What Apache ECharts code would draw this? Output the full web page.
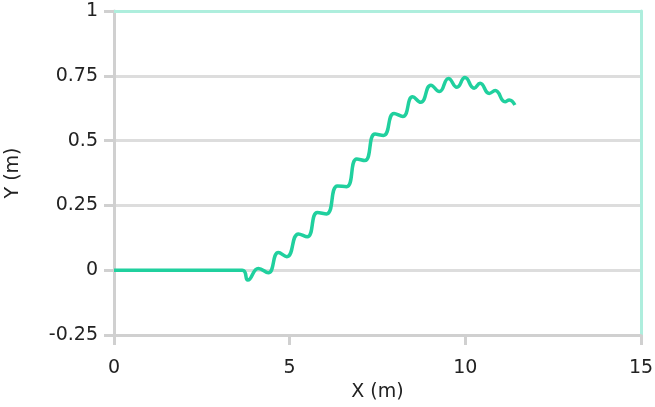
<!DOCTYPE html>
<html>
<head>
<meta charset="utf-8">
<script src="https://cdn.jsdelivr.net/npm/echarts@6/dist/echarts.min.js"></script>
<style>html,body{margin:0;padding:0;background:#fff}#c{width:655px;height:407px}</style>
</head>
<body>
<div id="c"></div>
<script>
const xValues = [0, 3.65, 3.81, 4.11, 4.39, 4.68, 4.92, 5.25, 5.50, 5.79, 6.05, 6.36, 6.62, 6.91, 7.14, 7.43, 7.67, 7.97, 8.22, 8.50, 8.73, 9.02, 9.26, 9.52, 9.76, 9.99, 10.25, 10.42, 10.68, 10.85, 11.13, 11.25, 11.41];
const yValues = [0, 0, -0.038, 0.007, -0.010, 0.068, 0.052, 0.140, 0.129, 0.223, 0.217, 0.325, 0.322, 0.429, 0.423, 0.525, 0.520, 0.605, 0.593, 0.669, 0.648, 0.714, 0.689, 0.740, 0.706, 0.743, 0.702, 0.721, 0.682, 0.693, 0.650, 0.657, 0.637];
const xTicks = [0, 5, 10, 15];
const yTicks = [-0.25, 0, 0.25, 0.5, 0.75, 1];
const xName = 'X (m)';
const yName = 'Y (m)';

const font = 'DejaVu Sans';
const textColor = '#222';
const chart = echarts.init(document.getElementById('c'), null, {renderer: 'canvas'});
const data = xValues.map((x, i) => [x, yValues[i]]);
chart.setOption({
  animation: false,
  grid: {left: 114, right: 14, top: 11, bottom: 72, containLabel: false, outerBoundsMode: 'none'},
  xAxis: [{
    type: 'value', min: xTicks[0], max: xTicks[xTicks.length - 1], interval: 5,
    name: xName, nameLocation: 'middle', nameGap: 48,
    nameTextStyle: {fontFamily: font, fontSize: 19, color: textColor},
    axisLine: {show: true, onZero: false, lineStyle: {color: '#d0d0d0', width: 3}},
    axisTick: {show: true, length: 10, lineStyle: {color: '#d0d0d0', width: 3}},
    axisLabel: {fontFamily: font, fontSize: 19, color: textColor, margin: 24},
    splitLine: {show: false}
  }, {
    type: 'value', position: 'top', min: 0, max: 15,
    axisLine: {show: true, onZero: false, lineStyle: {color: '#aeeedd', width: 3}},
    axisTick: {show: false}, axisLabel: {show: false}, splitLine: {show: false}
  }],
  yAxis: [{
    type: 'value', min: yTicks[0], max: yTicks[yTicks.length - 1], interval: 0.25,
    name: yName, nameLocation: 'middle', nameGap: 91,
    nameTextStyle: {fontFamily: font, fontSize: 19, color: textColor},
    axisLine: {show: true, onZero: false, lineStyle: {color: '#d0d0d0', width: 3}},
    axisTick: {show: true, length: 10, lineStyle: {color: '#d0d0d0', width: 3}},
    axisLabel: {fontFamily: font, fontSize: 19, color: textColor, margin: 16},
    splitLine: {show: true, lineStyle: {color: '#dddddd', width: 3}}
  }, {
    type: 'value', position: 'right', min: -0.25, max: 1,
    axisLine: {show: true, onZero: false, lineStyle: {color: '#aeeedd', width: 3}},
    axisTick: {show: false}, axisLabel: {show: false}, splitLine: {show: false}
  }],
  series: [{
    type: 'line', data: data, xAxisIndex: 0, yAxisIndex: 0,
    showSymbol: false, smooth: 0.5,
    lineStyle: {color: '#20d09e', width: 3.5},
    z: 5
  }]
});
</script>
</body>
</html>
